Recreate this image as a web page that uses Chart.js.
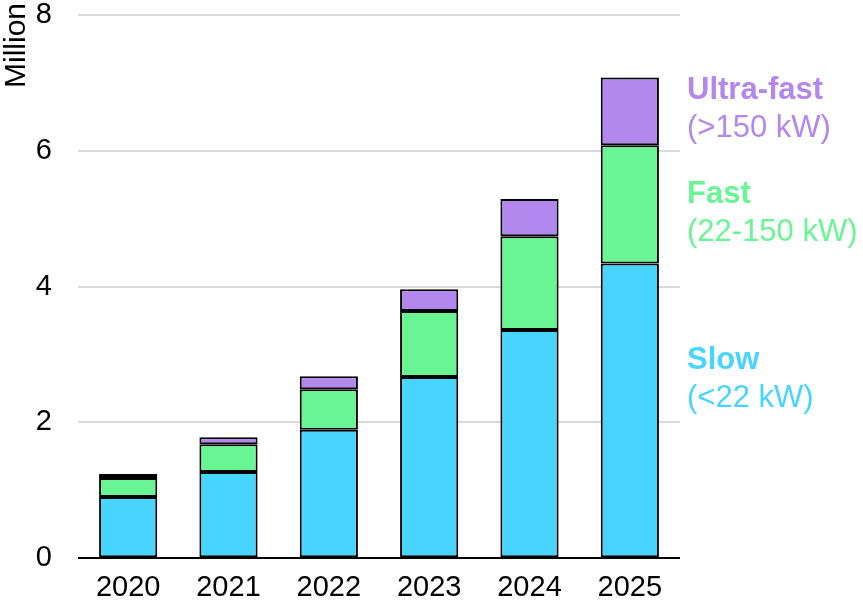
<!DOCTYPE html>
<html>
<head>
<meta charset="utf-8">
<script src="https://cdn.jsdelivr.net/npm/chart.js@4"></script>
<style>
  html, body { margin: 0; padding: 0; background: #fff; }
  #wrap { width: 863px; height: 600px; position: relative; }
</style>
</head>
<body>
<div id="wrap"><canvas id="chargeurs"></canvas></div>
<script>
// Données (millions de points de recharge)
const annees = ['2020', '2021', '2022', '2023', '2024', '2025'];
const lent = [0.90, 1.27, 1.89, 2.67, 3.36, 4.34];
const rapide = [0.28, 0.41, 0.60, 0.97, 1.38, 1.74];
const ultraRapide = [0.06, 0.10, 0.19, 0.32, 0.55, 1.00];
const ticksY = [0, 2, 4, 6, 8];

const couleurs = { lent: '#47d4ff', rapide: '#69f593', ultra: '#b388ee' };
const police = '"Liberation Sans", Arial, sans-serif';

// Étiquettes à droite du graphique (valeur y en millions pour la première ligne)
const etiquettes = [
    { titre: 'Ultra-fast', sous: '(>150 kW)', couleur: couleurs.ultra, y: 6.89 },
    { titre: 'Fast', sous: '(22-150 kW)', couleur: couleurs.rapide, y: 5.36 },
    { titre: 'Slow', sous: '(<22 kW)', couleur: couleurs.lent, y: 2.91 }
];

const pluginEtiquettes = {
    id: 'etiquettes',
    afterDraw(chart) {
        const ctx = chart.ctx;
        const y = chart.scales.y;
        const x = chart.chartArea.right + 7;
        ctx.save();
        ctx.textAlign = 'left';
        ctx.textBaseline = 'middle';
        etiquettes.forEach(e => {
            const py = y.getPixelForValue(e.y);
            ctx.fillStyle = e.couleur;
            ctx.font = 'bold 31px ' + police;
            ctx.fillText(e.titre, x, py);
            ctx.font = '31px ' + police;
            ctx.fillText(e.sous, x, py + 38);
        });
        // Unité de l'axe Y, en haut à gauche
        ctx.translate(17, 3);
        ctx.rotate(-Math.PI / 2);
        ctx.textAlign = 'right';
        ctx.fillStyle = '#000';
        ctx.font = '30px ' + police;
        ctx.fillText('Million', 0, 0);
        ctx.restore();
    }
};

function serie(label, data, couleur) {
    return {
        label: label,
        data: data,
        backgroundColor: couleur,
        borderColor: '#000',
        borderWidth: 2,
        borderSkipped: false,
        barPercentage: 0.58,
        categoryPercentage: 1
    };
}

new Chart(document.getElementById('chargeurs'), {
    type: 'bar',
    data: {
        labels: annees,
        datasets: [
            serie('Slow', lent, couleurs.lent),
            serie('Fast', rapide, couleurs.rapide),
            serie('Ultra-fast', ultraRapide, couleurs.ultra)
        ]
    },
    options: {
        responsive: true,
        maintainAspectRatio: false,
        animation: false,
        layout: { padding: { top: 15, right: 183, bottom: -9, left: 0 } },
        plugins: {
            legend: { display: false },
            tooltip: { enabled: false }
        },
        scales: {
            x: {
                stacked: true,
                grid: { display: false },
                border: { display: false },
                ticks: { color: '#000', font: { family: police, size: 29 }, padding: 4 }
            },
            y: {
                stacked: true,
                min: 0,
                max: 8,
                afterBuildTicks: s => { s.ticks = ticksY.map(v => ({ value: v })); },
                afterFit: s => { s.width = 78; s.paddingTop = 0; s.paddingBottom = 0; },
                border: { display: false },
                grid: {
                    drawTicks: false,
                    lineWidth: 2,
                    color: c => (c.tick && c.tick.value === 0 ? '#000' : '#d9d9d9')
                },
                ticks: { color: '#000', font: { family: police, size: 29 }, padding: 26 }
            }
        }
    },
    plugins: [pluginEtiquettes]
});
</script>
</body>
</html>
